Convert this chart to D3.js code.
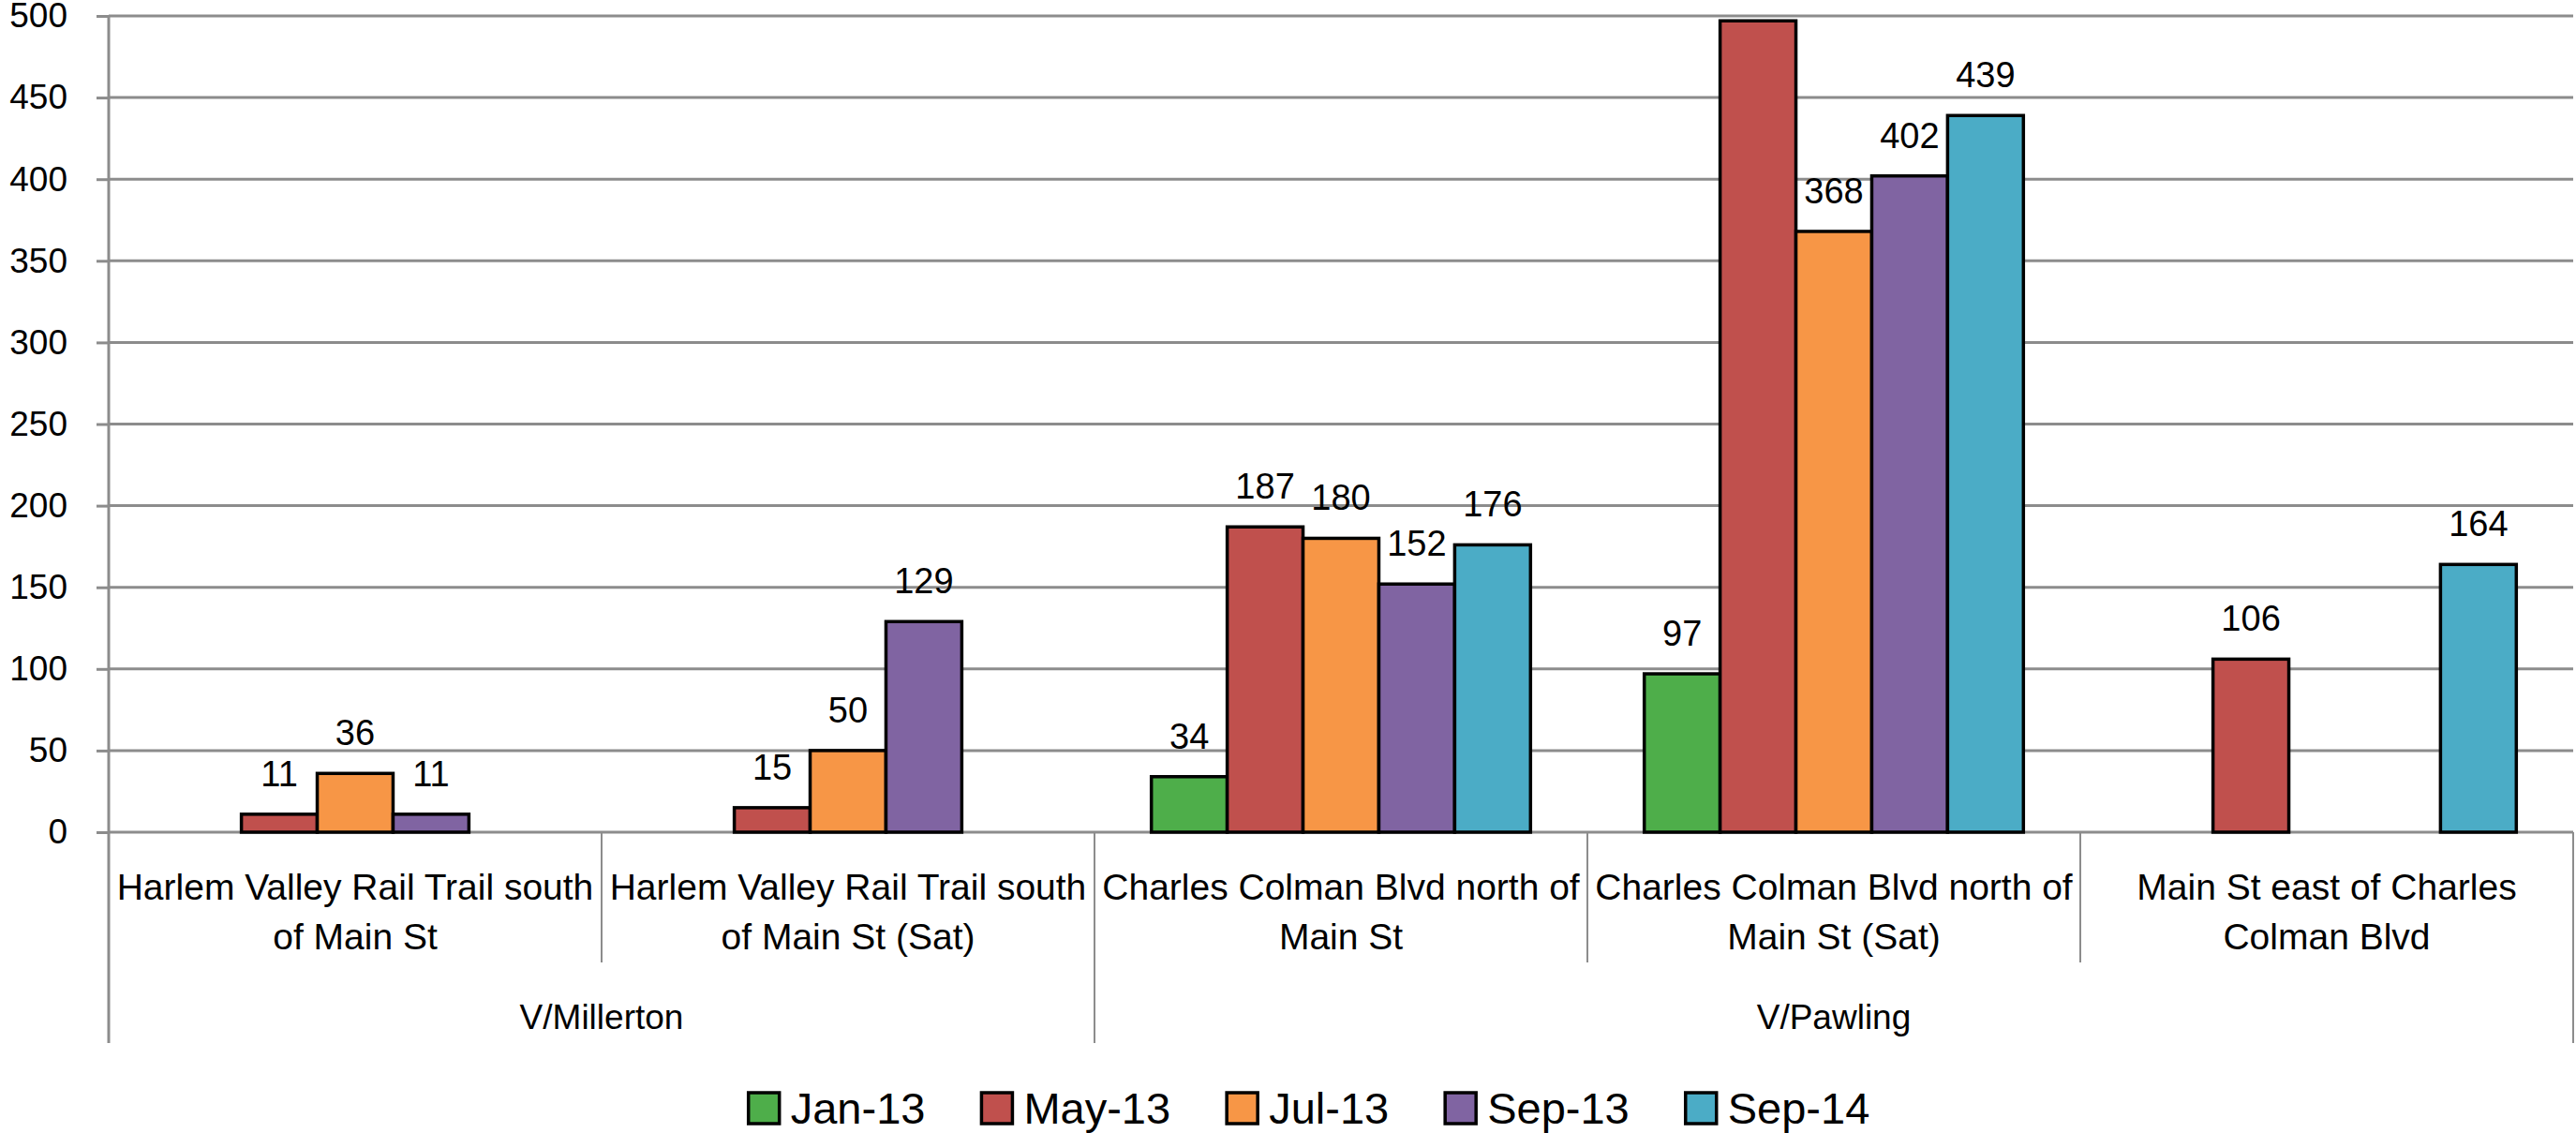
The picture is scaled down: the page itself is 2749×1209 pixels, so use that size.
<!DOCTYPE html>
<html>
<head>
<meta charset="utf-8">
<script src="https://cdn.jsdelivr.net/npm/d3@7"></script>
<style>
  body { margin: 0; background: #fff; }
  text { font-family: "Liberation Sans", Arial, sans-serif; fill: #000; }
</style>
</head>
<body>
<div id="chart"></div>
<script>
// data
const groups = ["V/Millerton", "V/Pawling"];
const categories = [
  ["Harlem Valley Rail Trail south", "of Main St"],
  ["Harlem Valley Rail Trail south", "of Main St (Sat)"],
  ["Charles Colman Blvd north of", "Main St"],
  ["Charles Colman Blvd north of", "Main St (Sat)"],
  ["Main St east of Charles", "Colman Blvd"]
];
const categoryGroup = [0, 0, 1, 1, 1];
const seriesNames = ["Jan-13", "May-13", "Jul-13", "Sep-13", "Sep-14"];
const seriesColors = ["#4EAE4A", "#C0504D", "#F79646", "#8064A2", "#4BACC6"];
const jan13 = [null, null, 34, 97, null];
const may13 = [11, 15, 187, 497, 106];
const jul13 = [36, 50, 180, 368, null];
const sep13 = [11, 129, 152, 402, null];
const sep14 = [null, null, 176, 439, 164];
const seriesValues = [jan13, may13, jul13, sep13, sep14];
const yTicks = [0, 50, 100, 150, 200, 250, 300, 350, 400, 450, 500];

const width = 2749, height = 1209;
const margin = { left: 116, right: 3, top: 17, bottom: 321 };
const plotBottom = height - margin.bottom;

const svg = d3.select("#chart").append("svg")
  .attr("width", width)
  .attr("height", height);

const x = d3.scaleBand()
  .domain(d3.range(categories.length))
  .range([margin.left, width - margin.right]);

// Excel style gap width of 150%
const barW = x.bandwidth() / 6.5;
const xs = d3.scaleBand()
  .domain(d3.range(seriesNames.length))
  .range([barW * 0.75, x.bandwidth() - barW * 0.75]);

const y = d3.scaleLinear()
  .domain([0, 500])
  .range([plotBottom, margin.top]);

const gray = "#8c8c8c";

// tick marks + labels
const yAxis = svg.append("g").attr("transform", `translate(${margin.left},0)`)
  .call(d3.axisLeft(y).tickValues(yTicks).tickSize(13).tickPadding(31))
  .call(g => g.select(".domain").remove());
yAxis.selectAll(".tick line").attr("stroke", gray).attr("stroke-width", 3);
yAxis.selectAll(".tick text")
  .style("font-size", "37px")
  .attr("fill", "#000");

// gridlines
svg.append("g")
  .selectAll("line")
  .data(yTicks)
  .join("line")
  .attr("x1", margin.left)
  .attr("x2", width - margin.right)
  .attr("y1", d => y(d))
  .attr("y2", d => y(d))
  .attr("stroke", gray)
  .attr("stroke-width", 3);

// vertical axis line
svg.append("line")
  .attr("x1", margin.left).attr("x2", margin.left)
  .attr("y1", margin.top).attr("y2", 1113)
  .attr("stroke", gray).attr("stroke-width", 3);

// bars
const bars = [];
seriesValues.forEach((vals, s) => {
  vals.forEach((v, c) => {
    if (v != null) bars.push({ s, c, v });
  });
});

svg.append("g")
  .selectAll("rect")
  .data(bars)
  .join("rect")
  .attr("x", d => x(d.c) + xs(d.s))
  .attr("y", d => y(d.v))
  .attr("width", xs.bandwidth())
  .attr("height", d => y(0) - y(d.v))
  .attr("fill", d => seriesColors[d.s])
  .attr("stroke", "#000")
  .attr("stroke-width", 3.5);

// data labels (the clipped May-13 bar has none)
svg.append("g")
  .selectAll("text")
  .data(bars.filter(d => d.v < 480))
  .join("text")
  .attr("x", d => x(d.c) + xs(d.s) + xs.bandwidth() / 2)
  .attr("y", d => y(d.v) - 30)
  .attr("text-anchor", "middle")
  .style("font-size", "38px")
  .text(d => d.v);

// category separators below axis
const catEdges = d3.range(1, categories.length + 1).map(i =>
  i < categories.length ? x(i) : x(categories.length - 1) + x.bandwidth());
svg.append("g")
  .selectAll("line")
  .data(catEdges)
  .join("line")
  .attr("x1", d => d).attr("x2", d => d)
  .attr("y1", plotBottom)
  .attr("y2", (d, i) => {
    const idx = i + 1;
    const isGroupEdge = idx === categories.length || categoryGroup[idx] !== categoryGroup[idx - 1];
    return isGroupEdge ? 1113 : 1027;
  })
  .attr("stroke", gray)
  .attr("stroke-width", 2);

// category labels
const catLabels = svg.append("g")
  .selectAll("text")
  .data(categories)
  .join("text")
  .attr("text-anchor", "middle")
  .style("font-size", "39px");
catLabels.selectAll("tspan")
  .data((d, i) => d.map(line => ({ line, i })))
  .join("tspan")
  .attr("x", d => x(d.i) + x.bandwidth() / 2)
  .attr("y", (d, j) => 960 + j * 53)
  .text(d => d.line);

// group labels
svg.append("g")
  .selectAll("text")
  .data(groups)
  .join("text")
  .attr("x", (g, gi) => {
    const idx = d3.range(categories.length).filter(i => categoryGroup[i] === gi);
    return (x(idx[0]) + x(idx[idx.length - 1]) + x.bandwidth()) / 2;
  })
  .attr("y", 1098)
  .attr("text-anchor", "middle")
  .style("font-size", "37px")
  .text(d => d);

// legend
const legend = svg.append("g");
const item = legend.selectAll("g")
  .data(seriesNames)
  .join("g");
item.append("rect")
  .attr("width", 33).attr("height", 33)
  .attr("y", -33)
  .attr("fill", (d, i) => seriesColors[i])
  .attr("stroke", "#000")
  .attr("stroke-width", 3.5);
item.append("text")
  .attr("x", 45)
  .attr("y", 0)
  .style("font-size", "47px")
  .text(d => d);

let offset = 0;
item.each(function () {
  const w = d3.select(this).select("text").node().getComputedTextLength();
  d3.select(this).attr("transform", `translate(${offset},1199)`);
  offset += 45 + w + 60;
});
const total = offset - 60;
legend.attr("transform", `translate(${1397 - total / 2},0)`);
</script>
</body>
</html>
